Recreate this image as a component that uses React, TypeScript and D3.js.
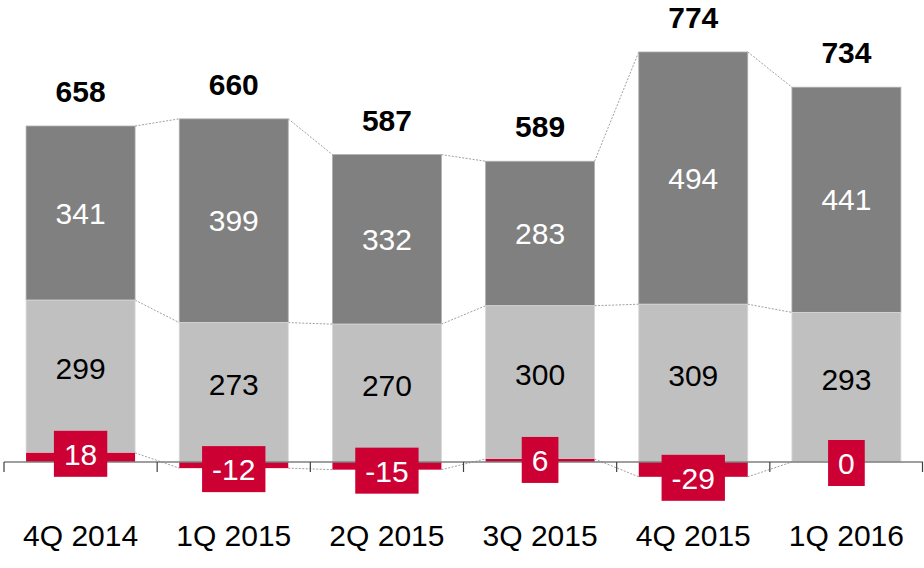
import React from "react";
import * as d3 from "d3";

const categories = ["4Q 2014", "1Q 2015", "2Q 2015", "3Q 2015", "4Q 2015", "1Q 2016"];
const redValues = [18, -12, -15, 6, -29, 0];
const lightValues = [299, 273, 270, 300, 309, 293];
const darkValues = [341, 399, 332, 283, 494, 441];
const totals = [658, 660, 587, 589, 774, 734];

const W = 924;
const H = 568;
const FONT = "'Liberation Sans', Arial, Helvetica, sans-serif";

export default function App() {
  const x = d3.scaleBand<string>().domain(categories).range([4, 923]).paddingInner(0).paddingOuter(0);
  const y = d3.scaleLinear().domain([0, 800]).range([462, 53.5]);
  const bw = 109;
  const bars = categories.map((c, i) => {
    const cx = (x(c) as number) + x.bandwidth() / 2;
    const r = redValues[i];
    const lightBase = r > 0 ? r : 0;
    const lightTop = lightBase + lightValues[i];
    const darkTop = lightTop + darkValues[i];
    return { c, i, cx, r, lightBase, lightTop, darkTop };
  });
  const textW = (s: string, size: number) => {
    let w = 0;
    for (const ch of s) w += ch === "-" ? 0.333 * size : 0.556 * size;
    return w;
  };
  return (
    <svg width={W} height={H} style={{ position: "absolute", left: 0, top: 0 }} fontFamily={FONT}>
      <rect x={0} y={0} width={W} height={H} fill="#fff" />
      {/* connectors */}
      {bars.slice(0, -1).map((b, k) => {
        const n = bars[k + 1];
        const x1 = b.cx + bw / 2;
        const x2 = n.cx - bw / 2;
        const levels: [number, number][] = [
          [b.r, n.r],
          [b.lightTop, n.lightTop],
          [b.darkTop, n.darkTop],
        ];
        return levels.map(([a, z], j) => (
          <line key={`c${k}-${j}`} x1={x1} y1={y(a)} x2={x2} y2={y(z)} stroke="#a0a0a0" strokeWidth={1} strokeDasharray="2,1.5" />
        ));
      })}
      {/* bars */}
      {bars.map((b) => (
        <g key={b.c}>
          <rect x={b.cx - bw / 2} y={y(b.darkTop)} width={bw} height={y(b.lightTop) - y(b.darkTop)} fill="#808080" stroke="#b0b0b0" strokeWidth={0.8} />
          <rect x={b.cx - bw / 2} y={y(b.lightTop)} width={bw} height={y(b.lightBase) - y(b.lightTop)} fill="#c0c0c0" stroke="#d8d8d8" strokeWidth={0.8} />
          {b.r !== 0 && (
            <rect x={b.cx - bw / 2} y={y(Math.max(b.r, 0))} width={bw} height={Math.abs(y(b.r) - y(0))} fill="#CC0033" />
          )}
        </g>
      ))}
      {/* axis */}
      <line x1={4} x2={923} y1={y(0)} y2={y(0)} stroke="#7f7f7f" strokeWidth={1.5} />
      {d3.range(categories.length + 1).map((i) => {
        const tx = i < categories.length ? (x(categories[i]) as number) : 923 - 0.5;
        return <line key={`t${i}`} x1={tx} x2={tx} y1={y(0)} y2={y(0) + 10} stroke="#404040" strokeWidth={1.2} />;
      })}
      {/* segment labels */}
      {bars.map((b) => (
        <g key={`l${b.c}`} fontSize={30} textAnchor="middle">
          <text x={b.cx} y={(y(b.lightTop) + y(b.darkTop)) / 2 + 10.5} fill="#fff">{darkValues[b.i]}</text>
          <text x={b.cx} y={(y(b.lightBase) + y(b.lightTop)) / 2 + 10.5 - 8} fill="#000">{lightValues[b.i]}</text>
          <text x={b.cx} y={y(b.darkTop) - 24} fill="#000" fontWeight="bold" fontSize={30}>{totals[b.i]}</text>
        </g>
      ))}
      {/* red labels */}
      {bars.map((b) => {
        const s = String(b.r);
        const w = textW(s, 30) + 20;
        const cy = y(b.r) + 1;
        return (
          <g key={`r${b.c}`}>
            <rect x={b.cx - w / 2} y={cy - 23} width={w} height={46} fill="#CC0033" />
            <text x={b.cx} y={cy + 11} fill="#fff" fontSize={30} textAnchor="middle">{s}</text>
          </g>
        );
      })}
      {/* category labels */}
      {bars.map((b) => (
        <text key={`x${b.c}`} x={b.cx} y={546} fontSize={30} textAnchor="middle" fill="#000">{b.c}</text>
      ))}
    </svg>
  );
}
